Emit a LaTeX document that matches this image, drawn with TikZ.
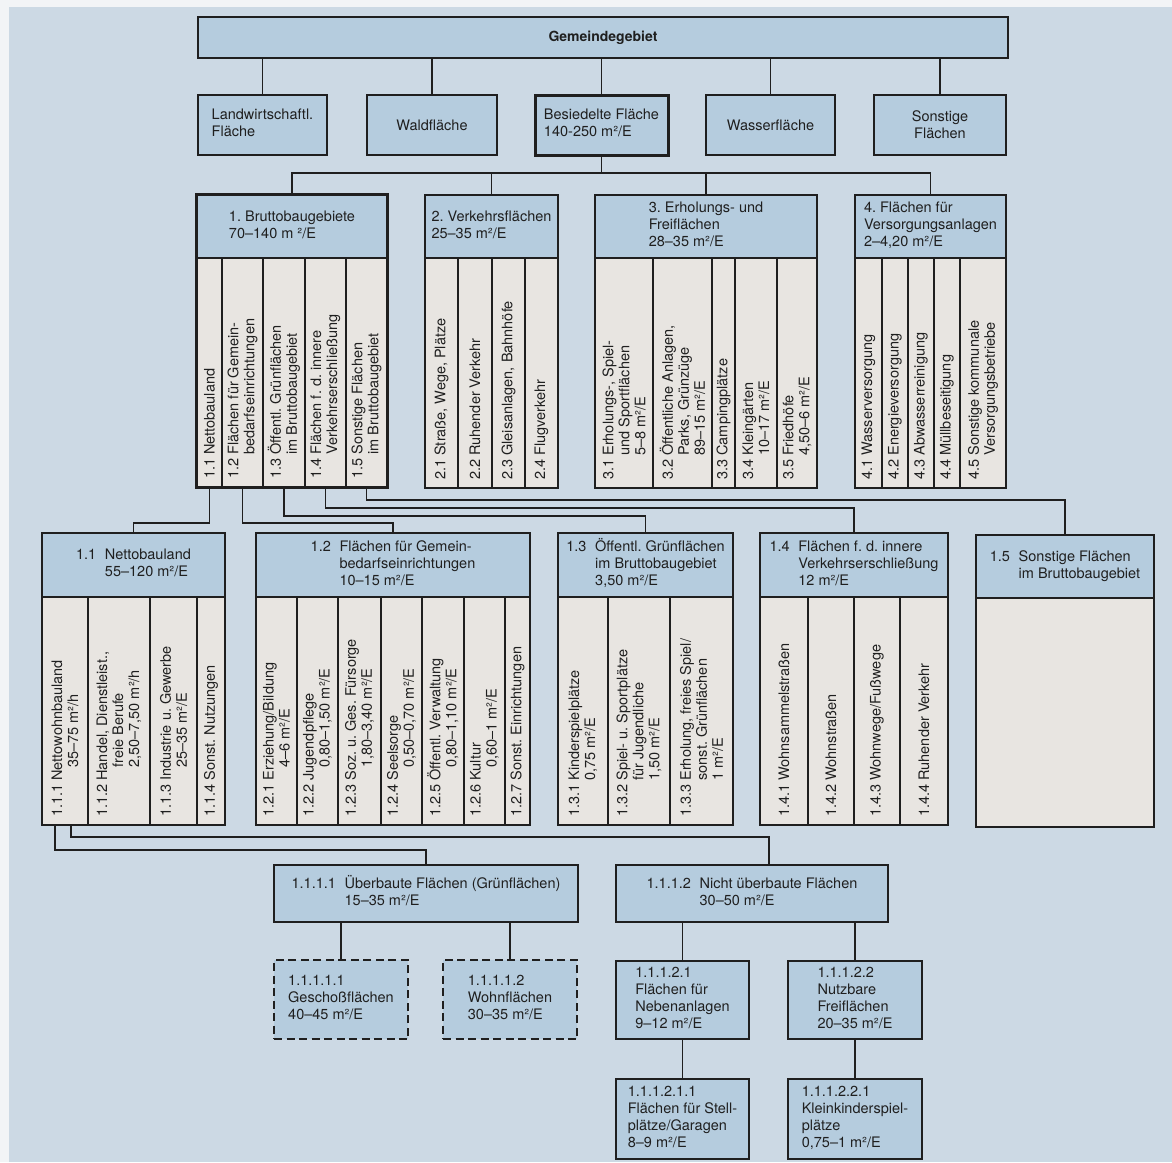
\documentclass[tikz,border=0pt]{standalone}
\usepackage{fontspec}
\setmainfont{TeX Gyre Heros}

\definecolor{paper}{HTML}{F2F4F6}
\definecolor{bgblue}{HTML}{CCD9E4}
\definecolor{hdrblue}{HTML}{B5CCDE}
\definecolor{bodygrey}{HTML}{E8E5E1}
\definecolor{ink}{HTML}{1F1F1F}

% item number with its text; the gap macros indent the following lines
\newcommand\nr[1]{#1\ }
\newcommand\nrgap[1]{\phantom{#1\ }}
\newcommand\nrgapx[1]{\phantom{#1\ }\hspace*{13pt}}
\newcommand\hnr[1]{#1\hspace{0.6em}}
\newcommand\hnrgap[1]{\phantom{#1}\hspace{0.6em}}
% left-aligned block of lines, centred as a whole in its box
\newcommand\blk[1]{\begin{tabular}{@{}l@{}}#1\end{tabular}}

\begin{document}
\frenchspacing
\begin{tikzpicture}[x=1pt,y=-1pt,
  every node/.style={font=\fontsize{14.5}{17}\selectfont, text=ink},
  % a rectangle given by its corners: left, top, right, bottom
  boxspan/.style args={#1,#2,#3,#4}{minimum width={(#3)-(#1)}, minimum height={(#4)-(#2)},
    at={({((#1)+(#3))/2},{((#2)+(#4))/2})}},
  box/.style={draw=ink, line width=1.8pt, fill=hdrblue, inner sep=0pt, rectangle},
  bodybox/.style={draw=ink, line width=1.8pt, fill=bodygrey, inner sep=0pt, rectangle},
  heavyline/.style={line width=3pt},
  dashbox/.style={box, dash pattern=on 8pt off 4.5pt},
  conn/.style={draw=ink, line width=1.5pt},
  divider/.style={draw=ink, line width=1.2pt},
  coltext/.style={rotate=90, anchor=west, inner sep=0pt, align=left,
    font=\fontsize{14.5}{16}\selectfont},
]
\useasboundingbox (0,0) rectangle (1172,1162);
\fill[paper] (0,0) rectangle (1172,1162);
\fill[bgblue] (9,7) rectangle (1172,1162);

% ---------- top level ----------
\node[box, boxspan={198,17,1008,58}, font=\fontsize{14}{17}\selectfont\bfseries] (gem) {Gemeindegebiet};

\node[box, boxspan={198,95,327,155}] (lw) {\blk{Landwirtschaftl.\\Fläche}};
\node[box, boxspan={367,95,497,155}] (wald) {Waldfläche};
\node[box, heavyline, boxspan={535,95,668,155}] (bes) {\blk{Besiedelte Fläche\\140-250 m²/E}};
\node[box, boxspan={706,95,835,155}] (wass) {Wasserfläche};
\node[box, boxspan={874,95,1006,155}, align=center] (sonst) {Sonstige\\Flächen};

\foreach \n in {lw,wald,bes,wass,sonst}
  \draw[conn] (\n.north) -- (\n.north |- gem.south);

% ---------- second level ----------
% 1. Bruttobaugebiete
\node[bodybox, boxspan={197,258,387,487}] (b1b) {};
\node[box, boxspan={197,195,387,258}] (b1h) {\blk{1. Bruttobaugebiete\\70–140 m ²/E}};
\foreach \x in {222,263,305,346} \draw[divider] (\x,258) -- (\x,487);
\draw[ink, heavyline] (b1h.north west) rectangle (b1b.south east);
\node[coltext] (k11) at (209.5,479) {\nr{1.1}Nettobauland};
\node[coltext] (k12) at (242.5,479) {\nr{1.2}Flächen für Gemein-\\\nrgap{1.2}bedarfseinrichtungen};
\node[coltext] (k13) at (284,479) {\nr{1.3}Öffentl. Grünflächen\\\nrgap{1.3}im Bruttobaugebiet};
\node[coltext] (k14) at (325.5,479) {\nr{1.4}Flächen f. d. innere\\\nrgap{1.4}Verkehrserschließung};
\node[coltext] (k15) at (366.5,479) {\nr{1.5}Sonstige Flächen\\\nrgap{1.5}im Bruttobaugebiet};

% 2. Verkehrsflächen
\node[bodybox, boxspan={425,258,558,488}] (b2b) {};
\node[box, boxspan={425,195,558,258}] (b2h) {\blk{2. Verkehrsflächen\\25–35 m²/E}};
\foreach \x in {458,492,525} \draw[divider] (\x,258) -- (\x,488);
\node[coltext] (k21) at (441.5,480) {\nr{2.1}Straße, Wege, Plätze};
\node[coltext] (k22) at (475,480) {\nr{2.2}Ruhender Verkehr};
\node[coltext] (k23) at (508.5,480) {\nr{2.3}Gleisanlagen, Bahnhöfe};
\node[coltext] (k24) at (541.5,480) {\nr{2.4}Flugverkehr};

% 3. Erholungs- und Freiflächen
\node[bodybox, boxspan={595,258,817,488}] (b3b) {};
\node[box, boxspan={595,195,817,258}] (b3h) {\blk{3. Erholungs- und\\Freiflächen\\28–35 m²/E}};
\foreach \x in {653,712,735,777} \draw[divider] (\x,258) -- (\x,488);
\node[coltext] (k31) at (624,480) {\nr{3.1}Erholungs-, Spiel-\\\nrgap{3.1}und Sportflächen\\\nrgap{3.1}5–8 m²/E};
\node[coltext] (k32) at (682.5,480) {\nr{3.2}Öffentliche Anlagen,\\\nrgap{3.2}Parks, Grünzüge\\\nrgap{3.2}89–15 m²/E};
\node[coltext] (k33) at (723.5,480) {\nr{3.3}Campingplätze};
\node[coltext] (k34) at (756,480) {\nr{3.4}Kleingärten\\\nrgap{3.4}10–17 m²/E};
\node[coltext] (k35) at (797,480) {\nr{3.5}Friedhöfe\\\nrgap{3.5}4,50–6 m²/E};

% 4. Flächen für Versorgungsanlagen
\node[bodybox, boxspan={855,258,1006,488}] (b4b) {};
\node[box, boxspan={855,195,1006,258}] (b4h) {\blk{4. Flächen für\\Versorgungsanlagen\\2–4,20 m²/E}};
\foreach \x in {882,908,934,960} \draw[divider] (\x,258) -- (\x,488);
\node[coltext] (k41) at (868.5,480) {\nr{4.1}Wasserversorgung};
\node[coltext] (k42) at (895,480) {\nr{4.2}Energieversorgung};
\node[coltext] (k43) at (921,480) {\nr{4.3}Abwasserreinigung};
\node[coltext] (k44) at (947,480) {\nr{4.4}Müllbeseitigung};
\node[coltext] (k45) at (983,480) {\nr{4.5}Sonstige kommunale\\\nrgap{4.5}Versorgungsbetriebe};

\coordinate (bus2) at (0,173);
\draw[conn] (bes.south) -- (bes.south |- bus2);
\draw[conn] (b1h.north) -- (b1h.north |- bus2) -- (b4h.north |- bus2) -- (b4h.north);
\draw[conn] (b2h.north) -- (b2h.north |- bus2);
\draw[conn] (b3h.north) -- (b3h.north |- bus2);

% ---------- third level ----------
% 1.1 Nettobauland
\node[bodybox, boxspan={42,597,225,825}] (n11b) {};
\node[box, boxspan={42,533,225,597}] (n11h) {\blk{\hnr{1.1}Nettobauland\\\hnrgap{1.1}55–120 m²/E}};
\foreach \x in {88,150,197} \draw[divider] (\x,597) -- (\x,825);
\node[coltext] (m111) at (65,817) {\nr{1.1.1}Nettowohnbauland\\\nrgapx{1.1.1}35–75 m²/h};
\node[coltext] (m112) at (119,817) {\nr{1.1.2}Handel, Dienstleist.,\\\nrgapx{1.1.2}freie Berufe\\\nrgapx{1.1.2}2,50–7,50 m²/h};
\node[coltext] (m113) at (173.5,817) {\nr{1.1.3}Industrie u. Gewerbe\\\nrgapx{1.1.3}25–35 m²/E};
\node[coltext] (m114) at (211,817) {\nr{1.1.4}Sonst. Nutzungen};

% 1.2 Flächen für Gemeinbedarfseinrichtungen
\node[bodybox, boxspan={256,597,530,825}] (n12b) {};
\node[box, boxspan={256,533,530,597}] (n12h) {\blk{\hnr{1.2}Flächen für Gemein-\\\hnrgap{1.2}bedarfseinrichtungen\\\hnrgap{1.2}10–15 m²/E}};
\foreach \x in {297,338,381,422,464,505} \draw[divider] (\x,597) -- (\x,825);
\node[coltext] (m121) at (276.5,817) {\nr{1.2.1}Erziehung/Bildung\\\nrgapx{1.2.1}4–6 m²/E};
\node[coltext] (m122) at (317.5,817) {\nr{1.2.2}Jugendpflege\\\nrgapx{1.2.2}0,80–1,50 m²/E};
\node[coltext] (m123) at (359.5,817) {\nr{1.2.3}Soz. u. Ges. Fürsorge\\\nrgapx{1.2.3}1,80–3,40 m²/E};
\node[coltext] (m124) at (401.5,817) {\nr{1.2.4}Seelsorge\\\nrgapx{1.2.4}0,50–0,70 m²/E};
\node[coltext] (m125) at (443,817) {\nr{1.2.5}Öffentl. Verwaltung\\\nrgapx{1.2.5}0,80–1,10 m²/E};
\node[coltext] (m126) at (484.5,817) {\nr{1.2.6}Kultur\\\nrgapx{1.2.6}0,60–1 m²/E};
\node[coltext] (m127) at (517.5,817) {\nr{1.2.7}Sonst. Einrichtungen};

% 1.3 Öffentliche Grünflächen
\node[bodybox, boxspan={558,597,733,825}] (n13b) {};
\node[box, boxspan={558,533,733,597}] (n13h) {\blk{\hnr{1.3}Öffentl. Grünflächen\\\hnrgap{1.3}im Bruttobaugebiet\\\hnrgap{1.3}3,50 m²/E}};
\foreach \x in {608,670} \draw[divider] (\x,597) -- (\x,825);
\node[coltext] (m131) at (583,817) {\nr{1.3.1}Kinderspielplätze\\\nrgap{1.3.1}0,75 m²/E};
\node[coltext] (m132) at (639,817) {\nr{1.3.2}Spiel- u. Sportplätze\\\nrgap{1.3.2}für Jugendliche\\\nrgap{1.3.2}1,50 m²/E};
\node[coltext] (m133) at (701.5,817) {\nr{1.3.3}Erholung, freies Spiel/\\\nrgap{1.3.3}sonst. Grünflächen\\\nrgap{1.3.3}1 m²/E};

% 1.4 Flächen für die innere Verkehrserschließung
\node[bodybox, boxspan={760,597,948,825}] (n14b) {};
\node[box, boxspan={760,533,948,597}] (n14h) {\blk{\hnr{1.4}Flächen f. d. innere\\\hnrgap{1.4}Verkehrserschließung\\\hnrgap{1.4}12 m²/E}};
\foreach \x in {808,854,900} \draw[divider] (\x,597) -- (\x,825);
\node[coltext] (m141) at (784,817) {\nr{1.4.1}Wohnsammelstraßen};
\node[coltext] (m142) at (831,817) {\nr{1.4.2}Wohnstraßen};
\node[coltext] (m143) at (877,817) {\nr{1.4.3}Wohnwege/Fußwege};
\node[coltext] (m144) at (924,817) {\nr{1.4.4}Ruhender Verkehr};

% 1.5 Sonstige Flächen
\node[bodybox, boxspan={976,598,1154,827}] (n15b) {};
\node[box, boxspan={976,535,1154,598}] (n15h) {\blk{\hnr{1.5}Sonstige Flächen\\\hnrgap{1.5}im Bruttobaugebiet}};

% connectors from the columns of box 1
\coordinate (lvA) at (0,523);
\coordinate (lvB) at (0,516);
\coordinate (lvC) at (0,508);
\coordinate (lvD) at (0,500);
\draw[conn] (k11.west |- b1b.south) -- (k11.west |- lvA) -| (n11h.north);
\draw[conn] (k12.west |- b1b.south) -- (k12.west |- lvA) -| (n12h.north);
\draw[conn] (k13.west |- b1b.south) -- (k13.west |- lvB) -| (n13h.north);
\draw[conn] (k14.west |- b1b.south) -- (k14.west |- lvC) -| (n14h.north);
\draw[conn] (k15.west |- b1b.south) -- (k15.west |- lvD) -| (n15h.north);

% ---------- fourth level ----------
\node[box, boxspan={274,865,578,922}] (n1111) {\blk{\hnr{1.1.1.1}Überbaute Flächen (Grünflächen)\\\hnrgap{1.1.1.1}15–35 m²/E}};
\node[box, boxspan={616,865,888,922}] (n1112) {\blk{\hnr{1.1.1.2}Nicht überbaute Flächen\\\hnrgap{1.1.1.2}30–50 m²/E}};

\path (m111.west |- n11b.south) coordinate (q111);
\coordinate (q111a) at ([xshift=-10pt]q111);
\coordinate (q111b) at ([xshift=6pt]q111);
\coordinate (lvE) at (0,837);
\coordinate (lvF) at (0,850);
\draw[conn] (q111a) -- (q111a |- lvF) -| (n1111.north);
\draw[conn] (q111b) -- (q111b |- lvE) -| ([xshift=17pt]n1112.north);

\node[dashbox, boxspan={274,960,408,1039}] (d1) {\blk{1.1.1.1.1\\Geschoßflächen\\40–45 m²/E}};
\node[dashbox, boxspan={443,960,577,1039}] (d2) {\blk{1.1.1.1.2\\Wohnflächen\\30–35 m²/E}};
\node[box, boxspan={616,961,749,1039}] (n11121) {\blk{1.1.1.2.1\\Flächen für\\Nebenanlagen\\9–12 m²/E}};
\node[box, boxspan={788,961,922,1039}] (n11122) {\blk{1.1.1.2.2\\Nutzbare\\Freiflächen\\20–35 m²/E}};
\node[box, boxspan={616,1079,749,1159}] (n111211) {\blk{1.1.1.2.1.1\\Flächen für Stell-\\plätze/Garagen\\8–9 m²/E}};
\node[box, boxspan={788,1079,922,1159}] (n111221) {\blk{1.1.1.2.2.1\\Kleinkinderspiel-\\plätze\\0,75–1 m²/E}};

\draw[conn] (d1.north) -- (d1.north |- n1111.south);
\draw[conn] (d2.north) -- (d2.north |- n1111.south);
\draw[conn] (n11121.north) -- (n11121.north |- n1112.south);
\draw[conn] (n11122.north) -- (n11122.north |- n1112.south);
\draw[conn] (n111211.north) -- (n11121.south);
\draw[conn] (n111221.north) -- (n11122.south);
\end{tikzpicture}
\end{document}
